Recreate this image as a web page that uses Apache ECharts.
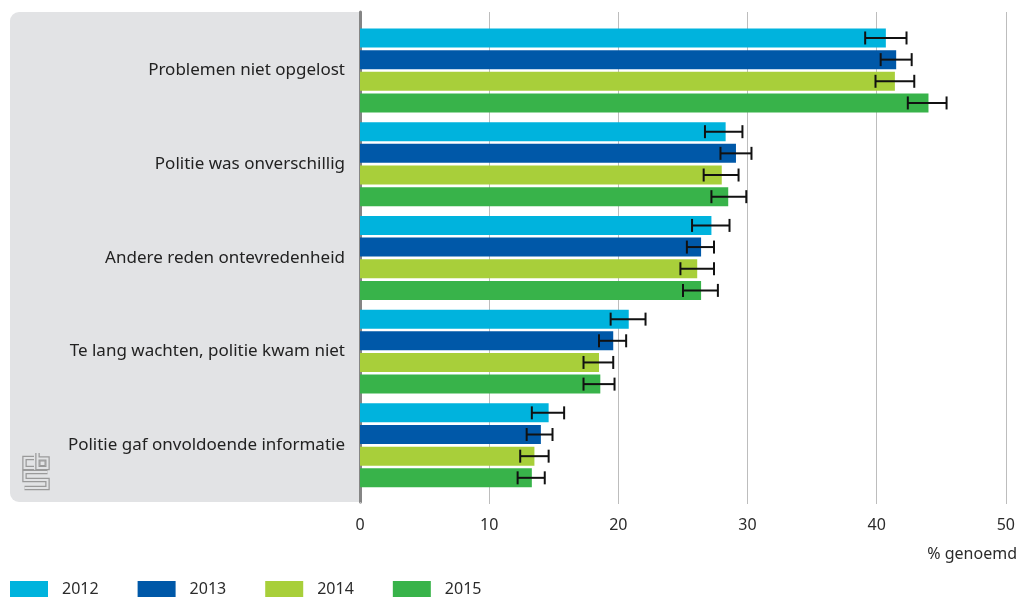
<!DOCTYPE html>
<html>
<head>
<meta charset="utf-8">
<script src="https://cdn.jsdelivr.net/npm/echarts@6/dist/echarts.min.js"></script>
<style>
html,body{margin:0;padding:0;background:#fff;}
#chart{width:1018px;height:597px;}
</style>
</head>
<body>
<div id="chart"></div>
<script>
// ---- data ----
const categories = [
  'Problemen niet opgelost',
  'Politie was onverschillig',
  'Andere reden ontevredenheid',
  'Te lang wachten, politie kwam niet',
  'Politie gaf onvoldoende informatie'
];
const years = ['2012', '2013', '2014', '2015'];
const values2012 = [40.7, 28.3, 27.2, 20.8, 14.6];
const values2013 = [41.5, 29.1, 26.4, 19.6, 14.0];
const values2014 = [41.4, 28.0, 26.1, 18.5, 13.5];
const values2015 = [44.0, 28.5, 26.4, 18.6, 13.3];
const low2012  = [39.1, 26.7, 25.7, 19.4, 13.3];
const high2012 = [42.3, 29.6, 28.6, 22.1, 15.8];
const low2013  = [40.3, 27.9, 25.3, 18.5, 12.9];
const high2013 = [42.7, 30.3, 27.4, 20.6, 14.9];
const low2014  = [39.9, 26.6, 24.8, 17.3, 12.4];
const high2014 = [42.9, 29.3, 27.4, 19.6, 14.6];
const low2015  = [42.4, 27.2, 25.0, 17.3, 12.2];
const high2015 = [45.4, 29.9, 27.7, 19.7, 14.3];
const xTicks = [0, 10, 20, 30, 40, 50];
const axisName = '% genoemd';

const valueSets = [values2012, values2013, values2014, values2015];
const lowSets = [low2012, low2013, low2014, low2015];
const highSets = [high2012, high2013, high2014, high2015];
const colors = ['#00b3dd', '#0058a8', '#a8cf3a', '#38b34a'];

const FONT = 'Noto Sans';
const BAR_W = 19;
const BAR_GAP = 0.14;
const STEP = BAR_W * (1 + BAR_GAP);

const chart = echarts.init(document.getElementById('chart'), null, {renderer: 'canvas'});

const series = [];
years.forEach((y, i) => {
  series.push({
    name: y,
    type: 'bar',
    xAxisIndex: 1,
    yAxisIndex: 1,
    barWidth: BAR_W,
    barGap: (BAR_GAP * 100) + '%',
    itemStyle: {color: colors[i]},
    data: valueSets[i],
    z: 3
  });
});
years.forEach((y, i) => {
  series.push({
    name: y + ' err',
    type: 'custom',
    xAxisIndex: 1,
    yAxisIndex: 1,
    z: 5,
    silent: true,
    data: categories.map((c, k) => [k, lowSets[i][k], highSets[i][k]]),
    renderItem: function (params, api) {
      const k = api.value(0);
      const lo = api.coord([api.value(1), k]);
      const hi = api.coord([api.value(2), k]);
      const yy = lo[1] + (i - 1.5) * STEP;
      const cap = 6.5;
      const st = {stroke: '#111', lineWidth: 2};
      return {
        type: 'group',
        children: [
          {type: 'line', shape: {x1: lo[0], y1: yy, x2: hi[0], y2: yy}, style: st},
          {type: 'line', shape: {x1: lo[0], y1: yy - cap, x2: lo[0], y2: yy + cap}, style: st},
          {type: 'line', shape: {x1: hi[0], y1: yy - cap, x2: hi[0], y2: yy + cap}, style: st}
        ]
      };
    }
  });
});

// CBS logo (decorative)
const LX = 23, LY = 453;
function lp(pts) { return pts.map(p => [LX + p[0], LY + p[1]]); }
const logoPaths = [
  lp([[11,5],[1.5,5],[1.5,15],[11,15]]),
  lp([[14.5,0],[14.5,15],[24.5,15],[24.5,5.5],[14.5,5.5]]),
  lp([[24.5,19],[1.5,19],[1.5,27],[24.5,27],[24.5,35],[1.5,35]])
];
const logoGraphics = [];
logoPaths.forEach(p => {
  logoGraphics.push({type: 'polyline', shape: {points: p}, style: {stroke: '#9a9a9a', lineWidth: 4.5, fill: null, lineJoin: 'miter'}, z: 1});
});
logoPaths.forEach(p => {
  logoGraphics.push({type: 'polyline', shape: {points: p}, style: {stroke: '#e2e3e5', lineWidth: 2, fill: null, lineJoin: 'miter'}, z: 2});
});
logoGraphics.push({type: 'rect', shape: {x: LX + 17, y: LY + 8, width: 5, height: 4.5}, style: {stroke: '#9a9a9a', lineWidth: 1, fill: null}, z: 3});

const option = {
  animation: false,
  textStyle: {fontFamily: FONT},
  title: {
    text: axisName,
    right: 1,
    top: 546,
    padding: [0, 0, 0, 0],
    textStyle: {fontFamily: FONT, fontSize: 16, fontWeight: 'normal', color: '#2b2b2b'}
  },
  legend: {
    left: 10,
    top: 581,
    padding: 0,
    itemWidth: 38,
    itemHeight: 16,
    itemGap: 39,
    icon: 'rect',
    data: years,
    textStyle: {fontFamily: FONT, fontSize: 16, color: '#2b2b2b', padding: [0, 0, 0, 9]}
  },
  graphic: [
    {type: 'rect', shape: {x: 10, y: 12, width: 352, height: 490, r: [9, 0, 0, 9]}, style: {fill: '#e2e3e5'}, z: -10}
  ].concat(logoGraphics),
  grid: [
    {left: 360, right: 12, top: 12, bottom: 95},
    {left: 360, right: 12, top: 23.6, bottom: 104.8}
  ],
  xAxis: [
    {
      gridIndex: 0, type: 'value', min: 0, max: 50, interval: 10,
      axisLine: {show: false},
      axisTick: {show: true, length: 2, lineStyle: {color: '#bdbdbd'}},
      splitLine: {show: true, lineStyle: {color: '#bdbdbd', width: 1}},
      axisLabel: {margin: 15, fontFamily: FONT, fontSize: 16, color: '#2b2b2b',
        formatter: v => xTicks.indexOf(v) >= 0 ? String(v) : ''}
    },
    {
      gridIndex: 1, type: 'value', min: 0, max: 50, interval: 10, show: false
    }
  ],
  yAxis: [
    {
      gridIndex: 0, type: 'category', data: categories,
      axisLine: {show: true, lineStyle: {color: '#858585', width: 3}},
      axisTick: {show: false}, axisLabel: {show: false}, splitLine: {show: false}
    },
    {
      gridIndex: 1, type: 'category', data: categories, inverse: true,
      axisLine: {show: false}, axisTick: {show: false}, splitLine: {show: false},
      axisLabel: {margin: 15, fontFamily: FONT, fontSize: 17, color: '#222'}
    }
  ],
  series: series
};
chart.setOption(option);
</script>
</body>
</html>
